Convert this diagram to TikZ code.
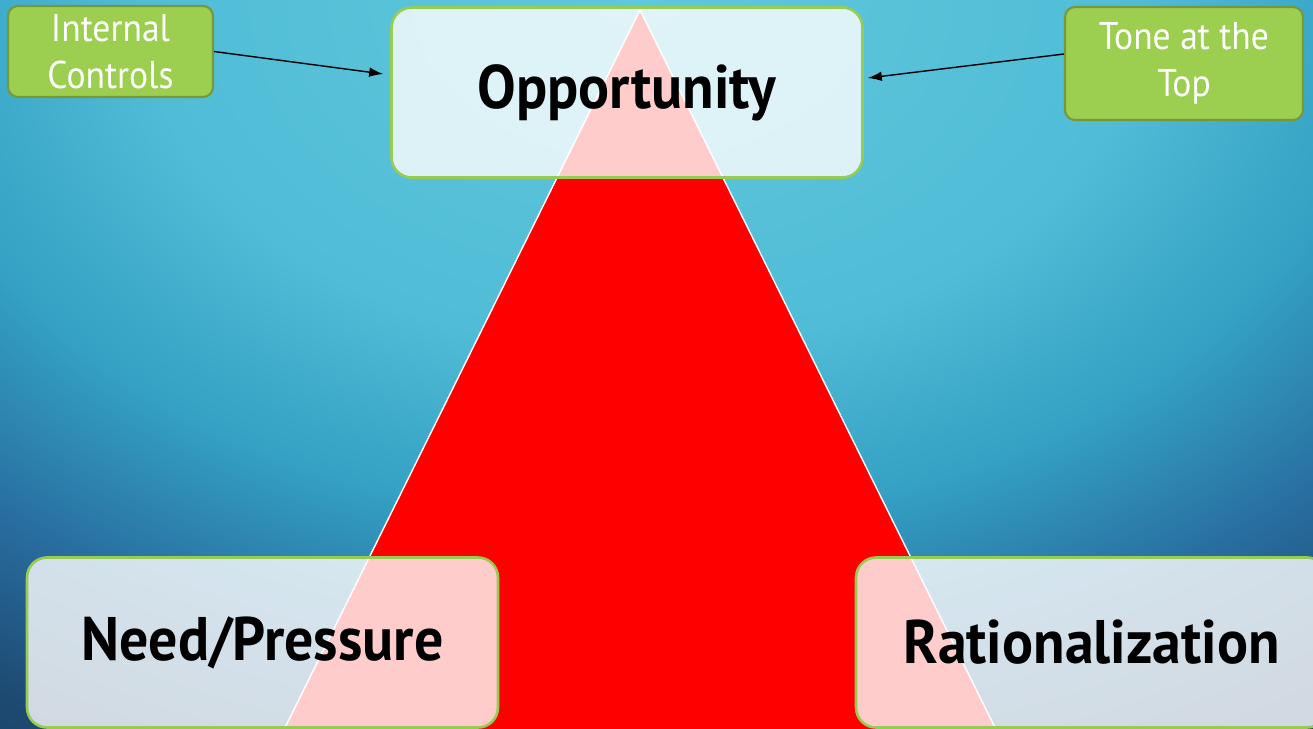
\documentclass[tikz,border=0pt]{standalone}
\usepackage{fontspec}
\setsansfont{PT Sans}
\newfontfamily\headfont[FakeStretch=0.94]{PT Sans}
\newfontfamily\notefont[FakeStretch=0.92]{PT Sans}
\usetikzlibrary{arrows.meta,positioning,calc}
\definecolor{skyTop}{RGB}{96, 200, 220}
\definecolor{skyA}{RGB}{80, 188, 214}
\definecolor{skyB}{RGB}{52, 160, 195}
\definecolor{skyC}{RGB}{40, 110, 160}
\definecolor{skyD}{RGB}{30, 75, 115}
\definecolor{skyE}{RGB}{22, 55, 95}
\definecolor{fraudRed}{RGB}{255, 0, 0}
\definecolor{leafFill}{RGB}{156, 206, 80}
\definecolor{leafEdge}{RGB}{118, 152, 56}
\definecolor{leafLine}{RGB}{150, 204, 82}

\pgfdeclareradialshading{skyglow}{\pgfpoint{0bp}{0bp}}{%
  color(0bp)=(skyTop); color(10bp)=(skyA); color(15bp)=(skyB);
  color(19.4bp)=(skyC); color(23.4bp)=(skyD); color(28bp)=(skyE);
  color(50bp)=(skyE)}

\tikzset{
  cornerbox/.style={draw=leafLine, line width=1.5pt, fill=white, fill opacity=0.8,
    text opacity=1, rounded corners=0.4cm, minimum width=9.42cm, minimum height=3.4cm,
    font=\headfont\bfseries\fontsize{35pt}{40pt}\selectfont},
  notebox/.style={draw=leafEdge, line width=1.2pt, fill=leafFill, rounded corners=0.2cm,
    text=white, align=center, font=\notefont\fontsize{22pt}{26.7pt}\selectfont},
  pointer/.style={-{Latex[length=8pt,width=5.5pt]}, line width=0.8pt, black}
}

\begin{document}
\begin{tikzpicture}[x=0.02cm, y=-0.02cm]
  \useasboundingbox (0,0) rectangle (1313,728);
  \clip (0,0) rectangle (1313,728);
  % backdrop, glow centred at the top
  \shade[shading=skyglow] (-610,-875) rectangle (1890,875);

  % the triangle
  \coordinate (apex) at (640,10);
  \coordinate (baseL) at (269,760);
  \coordinate (baseR) at (1011,760);
  \draw[white, line width=0.8pt, fill=fraudRed] (apex) -- (baseL) -- (baseR) -- cycle;

  % corners
  \node[cornerbox] (opp) at (627,92.5) {Opportunity};
  \node[cornerbox] (need) at (262.5,642.5) {Need/Pressure};
  \node[cornerbox] (rat) at (1091.5,642.5) {Rationalization};

  % side notes
  \node[notebox, minimum width=4.1cm, minimum height=1.82cm] (ctrl) at (110.5,51.5) {Internal\\Controls};
  \node[notebox, minimum width=4.76cm, minimum height=2.26cm] (tone) at (1184,63.5) {Tone at the\\Top};

  \draw[pointer] (ctrl.east) -- ([xshift=-0.14cm,yshift=0.37cm]opp.west);
  \draw[pointer] ([yshift=0.19cm]tone.west) -- ([xshift=0.08cm,yshift=0.29cm]opp.east);
\end{tikzpicture}
\end{document}
